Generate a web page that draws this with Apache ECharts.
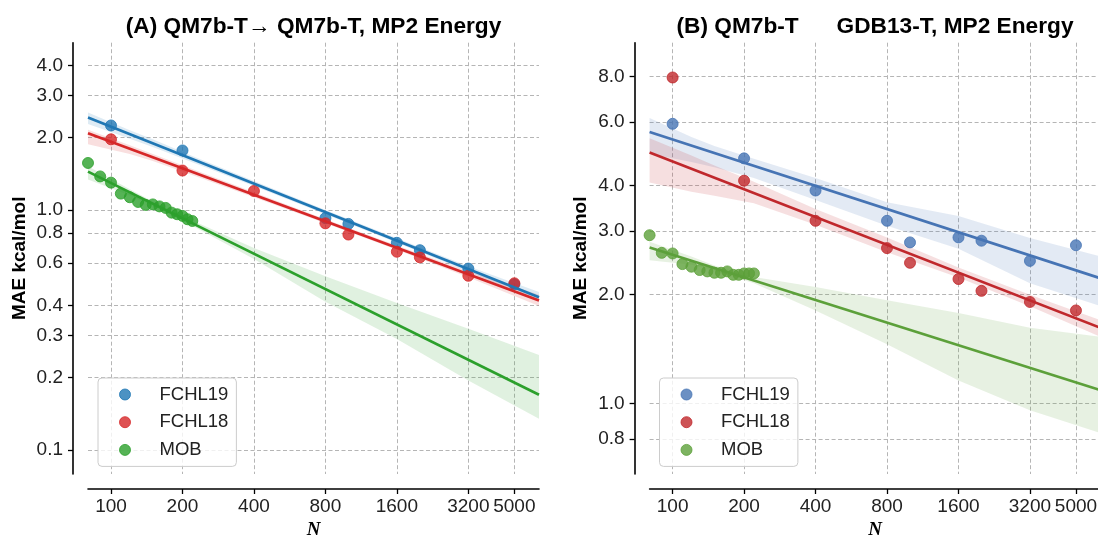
<!DOCTYPE html>
<html>
<head>
<meta charset="utf-8">
<script src="https://cdn.jsdelivr.net/npm/echarts@6/dist/echarts.min.js"></script>
<style>
  html, body { margin: 0; padding: 0; background: #fff; }
  #chart { width: 1098px; height: 535px; }
</style>
</head>
<body>
<div id="chart"></div>
<script>
// tick labels
var tickN = [100, 200, 400, 800, 1600, 3200, 5000];
var tickMaeA = [0.1, 0.2, 0.3, 0.4, 0.6, 0.8, 1.0, 2.0, 3.0, 4.0];
var tickMaeB = [0.8, 1.0, 2.0, 3.0, 4.0, 6.0, 8.0];

// training set sizes of the points
var nA19 = [100, 200, 800, 1000, 1600, 2000, 3200, 5000];
var nFchl = [100, 200, 400, 800, 1000, 1600, 2000, 3200, 5000];
var nMob = [80, 90, 100, 110, 120, 130, 140, 150, 160, 170, 180, 190, 200, 210, 220];

// (A) QM7b-T -> QM7b-T
var maeA19 = [2.25, 1.77, 0.925, 0.875, 0.73, 0.68, 0.57, 0.49];
var maeA18 = [1.97, 1.46, 1.20, 0.88, 0.79, 0.67, 0.635, 0.532, 0.495];
var maeAMob = [1.57, 1.38, 1.30, 1.17, 1.13, 1.08, 1.05, 1.055, 1.035, 1.02, 0.975, 0.96, 0.945, 0.915, 0.90];

// (B) QM7b-T -> GDB13-T
var maeB19 = [5.93, 4.76, 3.88, 3.20, 2.79, 2.88, 2.82, 2.48, 2.74];
var maeB18 = [7.96, 4.13, 3.20, 2.69, 2.45, 2.21, 2.05, 1.91, 1.81];
var maeBMob = [2.92, 2.61, 2.60, 2.43, 2.39, 2.34, 2.32, 2.30, 2.30, 2.32, 2.27, 2.27, 2.29, 2.29, 2.29];

// regression lines, value at both ends of the x range
var fitN = [80, 6350];
var fitA19 = [2.43, 0.433];
var fitA18 = [2.09, 0.42];
var fitAMob = [1.445, 0.17];
var fitB19 = [5.63, 2.22];
var fitB18 = [4.94, 1.62];
var fitBMob = [2.70, 1.09];

// confidence bands
var bandN = [80, 120, 150, 220, 400, 800, 1600, 3200, 6350];
var bandA19Lo = [2.28, 1.98, 1.83, 1.58, 1.26, 0.96, 0.73, 0.553, 0.415];
var bandA19Hi = [2.55, 2.15, 1.97, 1.68, 1.32, 1.00, 0.762, 0.583, 0.455];
var bandA18Lo = [1.88, 1.71, 1.60, 1.40, 1.13, 0.88, 0.683, 0.525, 0.398];
var bandA18Hi = [2.16, 1.86, 1.71, 1.48, 1.185, 0.915, 0.712, 0.556, 0.443];
var bandAMobLo = [1.34, 1.15, 1.04, 0.86, 0.625, 0.415, 0.29, 0.195, 0.135];
var bandAMobHi = [1.52, 1.22, 1.085, 0.905, 0.695, 0.53, 0.41, 0.32, 0.249];
var bandB19Lo = [4.9, 4.65, 4.5, 4.2, 3.65, 3.1, 2.68, 2.15, 1.86];
var bandB19Hi = [6.15, 5.45, 5.15, 4.75, 4.2, 3.6, 3.3, 2.87, 2.55];
var bandB18Lo = [4.08, 3.85, 3.75, 3.58, 3.12, 2.62, 2.23, 1.86, 1.53];
var bandB18Hi = [5.41, 4.85, 4.55, 4.1, 3.45, 2.88, 2.38, 2.0, 1.70];
var bandBMobLo = [2.49, 2.42, 2.33, 2.15, 1.81, 1.46, 1.16, 0.96, 0.83];
var bandBMobHi = [2.80, 2.55, 2.41, 2.24, 2.10, 1.93, 1.78, 1.62, 1.53];

var FONT = '"Liberation Sans", Arial, sans-serif';
var colA = { c19: [31, 119, 180], c18: [214, 39, 40], mob: [44, 160, 44] };
var colB = { c19: [70, 116, 180], c18: [192, 40, 44], mob: [92, 160, 58] };

function lg(v) { return Math.log10(v); }
function rgba(c, a) { return 'rgba(' + c[0] + ',' + c[1] + ',' + c[2] + ',' + a + ')'; }
function pairs(ns, vs) {
  return ns.map(function (n, i) { return [lg(n), lg(vs[i])]; });
}

// band polygon: lower edge left->right, upper edge right->left
function bandSeries(gi, c, lo, hi) {
  var poly = pairs(bandN, lo).concat(pairs(bandN, hi).reverse());
  return {
    type: 'custom', xAxisIndex: gi, yAxisIndex: gi, silent: true, z: 1, clip: true,
    data: poly,
    renderItem: function (params, api) {
      if (params.dataIndex !== 0) return;
      return {
        type: 'polygon',
        shape: { points: poly.map(function (p) { return api.coord(p); }) },
        style: { fill: rgba(c, 0.15), stroke: null }
      };
    }
  };
}

function fitSeries(gi, c, vals) {
  return {
    type: 'line', xAxisIndex: gi, yAxisIndex: gi, symbol: 'none', silent: true, z: 3,
    lineStyle: { color: rgba(c, 1), width: 2.7 },
    data: pairs(fitN, vals)
  };
}

function pointSeries(gi, name, c, ns, vals) {
  return {
    type: 'scatter', name: name, xAxisIndex: gi, yAxisIndex: gi, symbolSize: 11, z: 2,
    itemStyle: { color: rgba(c, 0.8), borderColor: rgba(c, 0.8), borderWidth: 1, opacity: 1 },
    data: pairs(ns, vals)
  };
}

function xAxis(gi) {
  return {
    type: 'value', gridIndex: gi, min: lg(80), max: lg(6350), offset: 15,
    name: 'N', nameLocation: 'middle', nameGap: 30,
    nameTextStyle: { fontFamily: '"Liberation Serif", "DejaVu Serif", serif', fontStyle: 'italic', fontWeight: 'bold', fontSize: 19, color: '#000' },
    axisLine: { show: true, onZero: false, lineStyle: { color: '#000', width: 1.6 } },
    axisTick: { show: true, length: 5, lineStyle: { color: '#000', width: 1.3 }, customValues: tickN.map(lg) },
    axisLabel: {
      customValues: tickN.map(lg), margin: 8, fontFamily: FONT, fontSize: 19, color: '#222',
      formatter: function (v) { return String(Math.round(Math.pow(10, v))); }
    },
    splitLine: { show: true, lineStyle: { color: '#b5b5b5', width: 1, type: [4, 2.5] } }
  };
}

function yAxis(gi, ticks, min, max) {
  return {
    type: 'value', gridIndex: gi, min: min, max: max, offset: 15,
    name: 'MAE kcal/mol', nameLocation: 'middle', nameGap: 44,
    nameTextStyle: { fontFamily: FONT, fontWeight: 'bold', fontSize: 19, color: '#000' },
    axisLine: { show: true, onZero: false, lineStyle: { color: '#000', width: 1.6 } },
    axisTick: { show: true, length: 5, lineStyle: { color: '#000', width: 1.3 }, customValues: ticks.map(lg) },
    axisLabel: {
      customValues: ticks.map(lg), margin: 10, fontFamily: FONT, fontSize: 19, color: '#222',
      formatter: function (v) { return Math.pow(10, v).toFixed(1); }
    },
    splitLine: { show: true, lineStyle: { color: '#b5b5b5', width: 1, type: [4, 2.5] } }
  };
}

function legend(left, c) {
  return {
    left: left, top: 378, orient: 'vertical',
    itemWidth: 11, itemHeight: 11, itemGap: 8.7,
    padding: [7, 8, 7, 21],
    borderColor: '#cccccc', borderWidth: 1, borderRadius: 4,
    backgroundColor: 'rgba(255,255,255,0.8)',
    selectedMode: false,
    textStyle: { fontFamily: FONT, fontSize: 18.5, color: '#222', lineHeight: 18, padding: [0, 0, 0, 24] },
    data: [
      { name: 'FCHL19', icon: 'circle', itemStyle: { color: rgba(c.c19, 0.8), borderColor: rgba(c.c19, 0.8), borderWidth: 1 } },
      { name: 'FCHL18', icon: 'circle', itemStyle: { color: rgba(c.c18, 0.8), borderColor: rgba(c.c18, 0.8), borderWidth: 1 } },
      { name: 'MOB', icon: 'circle', itemStyle: { color: rgba(c.mob, 0.8), borderColor: rgba(c.mob, 0.8), borderWidth: 1 } }
    ]
  };
}

var series = [
  bandSeries(0, colA.c19, bandA19Lo, bandA19Hi),
  bandSeries(0, colA.c18, bandA18Lo, bandA18Hi),
  bandSeries(0, colA.mob, bandAMobLo, bandAMobHi),
  pointSeries(0, 'FCHL19', colA.c19, nA19, maeA19),
  pointSeries(0, 'FCHL18', colA.c18, nFchl, maeA18),
  pointSeries(0, 'MOB', colA.mob, nMob, maeAMob),
  fitSeries(0, colA.c19, fitA19),
  fitSeries(0, colA.c18, fitA18),
  fitSeries(0, colA.mob, fitAMob),
  bandSeries(1, colB.c19, bandB19Lo, bandB19Hi),
  bandSeries(1, colB.c18, bandB18Lo, bandB18Hi),
  bandSeries(1, colB.mob, bandBMobLo, bandBMobHi),
  pointSeries(1, 'FCHL19', colB.c19, nFchl, maeB19),
  pointSeries(1, 'FCHL18', colB.c18, nFchl, maeB18),
  pointSeries(1, 'MOB', colB.mob, nMob, maeBMob),
  fitSeries(1, colB.c19, fitB19),
  fitSeries(1, colB.c18, fitB18),
  fitSeries(1, colB.mob, fitBMob)
];

var chart = echarts.init(document.getElementById('chart'), null, { renderer: 'canvas' });

var option = {
  animation: false,
  backgroundColor: '#fff',
  title: [
    {
      text: '(A) QM7b-T\u2192 QM7b-T, MP2 Energy', left: 313.5, top: 15, textAlign: 'center', padding: 0,
      textStyle: { fontFamily: FONT, fontSize: 22.7, fontWeight: 'bold', color: '#000' }
    },
    {
      text: '(B) QM7b-T      GDB13-T, MP2 Energy', left: 875, top: 15, textAlign: 'center', padding: 0,
      textStyle: { fontFamily: FONT, fontSize: 22.7, fontWeight: 'bold', color: '#000' }
    }
  ],
  legend: [legend(98, colA), legend(659.5, colB)],
  grid: [
    { left: 88, top: 42.7, width: 451, height: 431.3, containLabel: false, outerBoundsMode: 'none' },
    { left: 649.6, top: 42.7, width: 451, height: 431.3, containLabel: false, outerBoundsMode: 'none' }
  ],
  xAxis: [xAxis(0), xAxis(1)],
  yAxis: [yAxis(0, tickMaeA, -1.1, 0.697), yAxis(1, tickMaeB, -0.194, 0.997)],
  series: series
};

chart.setOption(option);
</script>
</body>
</html>
